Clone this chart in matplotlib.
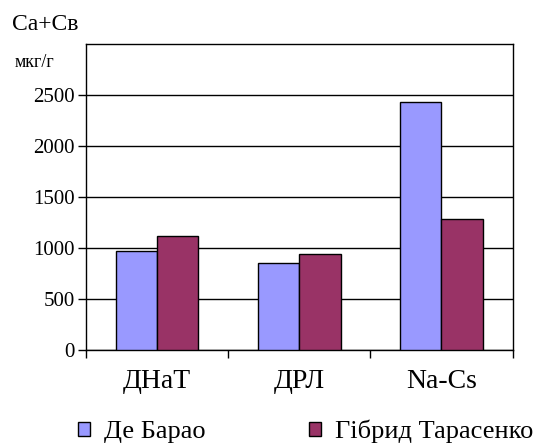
import numpy as np
import matplotlib.pyplot as plt

# дані
categories = ['ДНаТ', 'ДРЛ', 'Na-Cs']
de_barao = [967, 855, 2435]
gibrid = [1115, 940, 1283]
series_names = ['Де Барао', 'Гібрид Тарасенко']
yticks = [0, 500, 1000, 1500, 2000, 2500]

plt.rcParams['font.family'] = ['Liberation Serif', 'DejaVu Serif']

fig = plt.figure(figsize=(5.39, 4.45), dpi=100)
ax = fig.add_axes([0.1596, 0.2135, 0.7914, 0.6876])

x = np.arange(len(categories))
w = 0.29
b1 = ax.bar(x - w/2, de_barao, w, color='#9999FF', edgecolor='black', linewidth=1, zorder=3)
b2 = ax.bar(x + w/2, gibrid, w, color='#993366', edgecolor='black', linewidth=1, zorder=3)

ax.set_xlim(-0.5, 2.5)
ax.set_ylim(0, 3000)
ax.set_yticks(yticks)
ax.set_yticklabels([str(v) for v in yticks], fontsize=15)
ax.yaxis.grid(True, color='black', linewidth=1, zorder=0)
ax.tick_params(axis='y', direction='out', length=6, width=1, pad=2)

ax.set_xticks(x)
ax.set_xticklabels(categories, fontsize=20)
ax.set_xticks([-0.5, 0.5, 1.5, 2.5], minor=True)
ax.tick_params(axis='x', which='major', length=0, pad=14)
ax.tick_params(axis='x', which='minor', direction='out', length=6, width=1)

for s in ax.spines.values():
    s.set_linewidth(1)
    s.set_color('black')

fig.text(0.022, 0.945, 'Ca+Cв', fontsize=17, va='center', ha='left')
fig.text(0.028, 0.86, 'мкг/г', fontsize=13, va='center', ha='left')

fig.legend([b1, b2], series_names, loc='center', bbox_to_anchor=(0.567, 0.03),
           ncol=2, frameon=False, fontsize=19, handlelength=0.45, handleheight=0.45,
           columnspacing=3.9, handletextpad=0.55, borderpad=0, borderaxespad=0)

fig.savefig('out.png', dpi=100)
